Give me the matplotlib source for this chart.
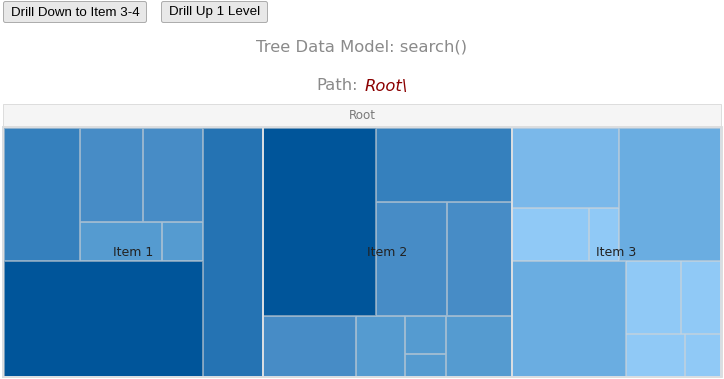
import matplotlib
matplotlib.use("Agg")
import matplotlib.pyplot as plt
from matplotlib.patches import Rectangle, FancyBboxPatch
from matplotlib.colors import to_rgb

# ---- data: top-level items, their sub-items, and the leaf values of each sub-item
items = ["Item 1", "Item 2", "Item 3"]
item1 = [[101.5, 60.5, 56.1, 31.1, 15.6], [232.8], [152.5]]
item2 = [[211.7], [101.2, 81.7, 75.5], [56.7], [29.9], [15.5, 9.4], [40.3]]
item3 = [[86.1, 40.2, 15.1], [137.0], [132.6], [40.7, 30.3, 25.8, 15.5]]

# ---- leaf fill colours (same nesting as the data)
item1_colors = [["#3580bd", "#478cc6", "#478cc6", "#559bd0", "#559bd0"],
                ["#00559a"], ["#2573b3"]]
item2_colors = [["#00559a"], ["#3580bd", "#478cc6", "#478cc6"], ["#478cc6"],
                ["#559bd0"], ["#559bd0", "#559bd0"], ["#559bd0"]]
item3_colors = [["#7ab8ea", "#90c9f6", "#90c9f6"], ["#6aade1"], ["#6aade1"],
                ["#90c9f6", "#90c9f6", "#90c9f6", "#90c9f6"]]

tree = [item1, item2, item3]
tree_colors = [item1_colors, item2_colors, item3_colors]

W_PX, H_PX = 724, 379
PX = 72.0 / 100.0  # one pixel in points


def worst(row, side):
    s = sum(row)
    return max(max(side * side * r / (s * s), s * s / (side * side * r)) for r in row)


def squarify(values, x, y, w, h):
    """Squarified treemap layout, keeping the order of the values."""
    total = float(sum(values))
    vals = [v * w * h / total for v in values]
    rects = []
    while vals:
        side = min(w, h)
        row = [vals.pop(0)]
        while vals and worst(row + [vals[0]], side) <= worst(row, side):
            row.append(vals.pop(0))
        s = sum(row)
        if w >= h:
            sw = s / h if h > 0 else 0
            yy = y
            for r in row:
                rh = r / sw if sw > 0 else 0
                rects.append((x, yy, sw, rh))
                yy += rh
            x += sw
            w -= sw
        else:
            sh = s / w if w > 0 else 0
            xx = x
            for r in row:
                rw = r / sh if sh > 0 else 0
                rects.append((xx, y, rw, sh))
                xx += rw
            y += sh
            h -= sh
    return rects


def blend(c, other, t):
    a = to_rgb(c)
    b = to_rgb(other)
    return tuple(a[i] * (1 - t) + b[i] * t for i in range(3))


fig = plt.figure(figsize=(W_PX / 100, H_PX / 100), dpi=100)
fig.patch.set_facecolor("white")
ax = fig.add_axes([0, 0, 1, 1])
ax.set_xlim(0, W_PX)
ax.set_ylim(H_PX, 0)
ax.axis("off")

# ---- buttons
for (bx, bw, label) in [(3.5, 143, "Drill Down to Item 3-4"), (161.5, 106, "Drill Up 1 Level")]:
    ax.add_patch(FancyBboxPatch((bx, 1.5), bw, 21,
                                boxstyle="round,pad=0,rounding_size=2",
                                facecolor="#e8e8e8", edgecolor="#adadad", lw=PX))
    ax.text(bx + bw / 2, 12.5, label, ha="center", va="center",
            fontsize=9.6, family="Liberation Sans", color="black")

# ---- titles
ax.text(362, 47, "Tree Data Model: search()", ha="center", va="center",
        fontsize=11.8, family="DejaVu Sans", color="#8a8a8a")

fig.canvas.draw()
renderer = fig.canvas.get_renderer()
inv = ax.transData.inverted()
t1 = ax.text(0, 86, "Path:", ha="left", va="center", fontsize=11.8,
             family="DejaVu Sans", color="#8a8a8a")
t2 = ax.text(0, 86, "Root\\", ha="left", va="center", fontsize=11.8,
             family="DejaVu Sans", style="italic", color="#8b0000")
w1 = t1.get_window_extent(renderer).width
w2 = t2.get_window_extent(renderer).width
gap = 6
start = 362 - (w1 + gap + w2) / 2
t1.set_x(start)
t2.set_x(start + w1 + gap)

# ---- treemap container and header
X0, Y0, TW, TH = 3, 127, 718, 250
ax.add_patch(Rectangle((X0, 104), TW, 22, facecolor="#f5f5f5",
                       edgecolor="#dddddd", lw=PX))
ax.text(X0 + TW / 2, 115.5, "Root", ha="center", va="center", fontsize=8.6,
        family="DejaVu Sans", color="#7a7a7a")

item_sizes = [sum(sum(c) for c in it) for it in tree]
item_rects = squarify(item_sizes, X0, Y0, TW, TH)

for name, children, colors, (ix, iy, iw, ih) in zip(items, tree, tree_colors, item_rects):
    child_rects = squarify([sum(c) for c in children], ix, iy, iw, ih)
    for leaves, cols, (cx, cy, cw, ch) in zip(children, colors, child_rects):
        for col, (lx, ly, lw_, lh) in zip(cols, squarify(leaves, cx, cy, cw, ch)):
            ax.add_patch(Rectangle((lx + 0.5, ly + 0.5), lw_ - 1, lh - 1,
                                   facecolor=col,
                                   edgecolor=blend(col, "#d4d4d4", 0.55),
                                   lw=PX))
    ax.add_patch(Rectangle((ix, iy), iw, ih, fill=False,
                           edgecolor="#d8dde2", lw=2 * PX))
    ax.text(ix + iw / 2, iy + ih / 2 + 1, name, ha="center", va="center",
            fontsize=9, family="DejaVu Sans", color="#222222")

ax.add_patch(Rectangle((X0 - 0.5, Y0 - 1), TW + 1, TH + 1, fill=False,
                       edgecolor="#dddddd", lw=PX))

fig.savefig("out.png", dpi=100, facecolor="white")
